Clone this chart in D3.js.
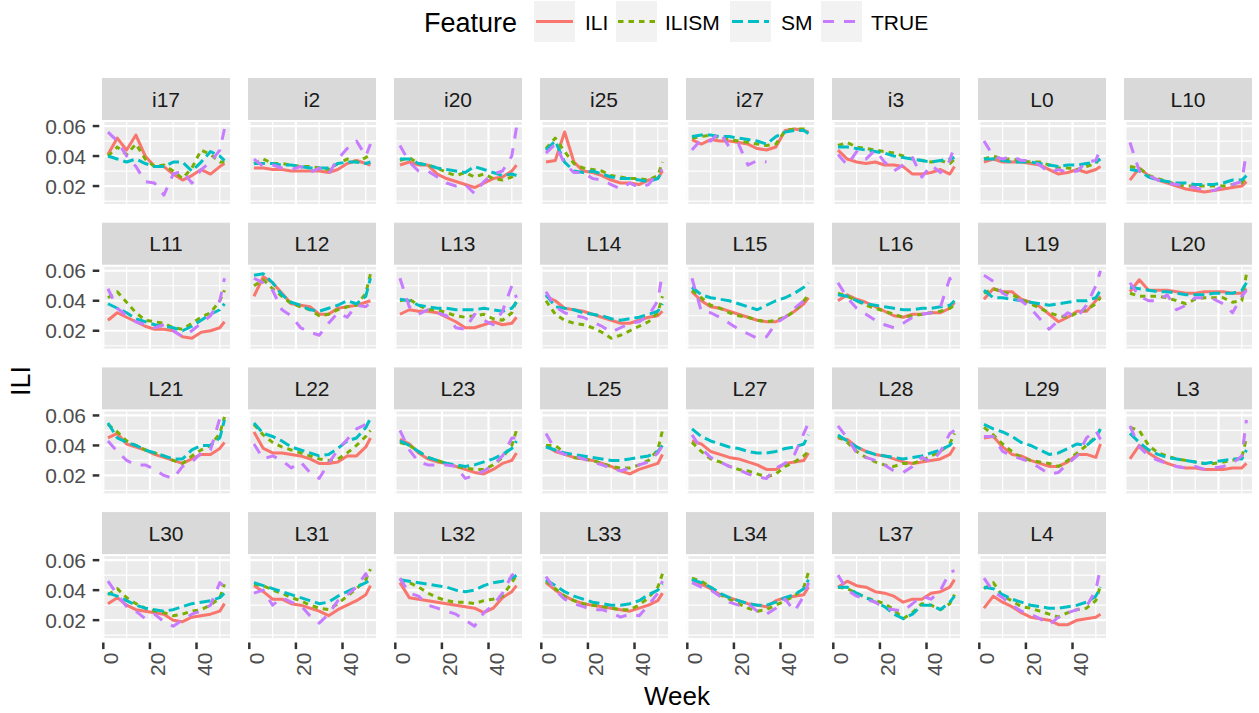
<!DOCTYPE html>
<html><head><meta charset="utf-8">
<script src="https://cdn.jsdelivr.net/npm/d3@7"></script>
<style>
html,body{margin:0;padding:0;background:#fff;}
svg{display:block;font-family:"Liberation Sans",Arial,Helvetica,sans-serif;}
</style></head>
<body><svg id="chart" width="1259" height="713"></svg>
<script>
const panels = ["i17","i2","i20","i25","i27","i3","L0","L10","L11","L12","L13","L14","L15","L16","L19","L20","L21","L22","L23","L25","L27","L28","L29","L3","L30","L31","L32","L33","L34","L37","L4"];
const weeks = [2,6,10,14,18,22,26,30,34,38,42,46,50,52];
const features = ["ILI","ILISM","SM","TRUE"];
const xTicks = [0,20,40];
const yTicks = [0.02,0.04,0.06];
const yTickLabels = ["0.02","0.04","0.06"];

const ILI = [
[0.041,0.052,0.044,0.054,0.040,0.033,0.033,0.028,0.024,0.027,0.031,0.028,0.033,0.035],
[0.032,0.032,0.031,0.031,0.030,0.030,0.030,0.030,0.029,0.031,0.035,0.037,0.035,0.034],
[0.034,0.036,0.034,0.034,0.028,0.025,0.023,0.021,0.019,0.022,0.025,0.026,0.030,0.034],
[0.036,0.037,0.056,0.036,0.030,0.029,0.027,0.024,0.022,0.022,0.021,0.024,0.025,0.030],
[0.051,0.048,0.051,0.050,0.050,0.049,0.048,0.045,0.044,0.046,0.057,0.058,0.057,0.056],
[0.044,0.038,0.036,0.035,0.036,0.034,0.034,0.033,0.028,0.028,0.029,0.031,0.028,0.033],
[0.036,0.038,0.036,0.036,0.036,0.035,0.034,0.031,0.028,0.029,0.031,0.029,0.031,0.033],
[0.024,0.032,0.027,0.024,0.022,0.020,0.018,0.017,0.016,0.017,0.018,0.019,0.020,0.023],
[0.027,0.032,0.029,0.026,0.023,0.021,0.021,0.020,0.016,0.015,0.019,0.020,0.022,0.026],
[0.043,0.056,0.052,0.045,0.038,0.037,0.036,0.031,0.031,0.035,0.036,0.037,0.039,0.040],
[0.031,0.034,0.033,0.033,0.032,0.029,0.026,0.022,0.022,0.024,0.026,0.024,0.025,0.029],
[0.043,0.040,0.035,0.034,0.033,0.031,0.029,0.027,0.025,0.025,0.027,0.029,0.030,0.033],
[0.046,0.040,0.036,0.035,0.033,0.031,0.029,0.027,0.026,0.026,0.029,0.033,0.038,0.042],
[0.040,0.044,0.041,0.039,0.036,0.033,0.030,0.029,0.031,0.031,0.032,0.032,0.035,0.039],
[0.041,0.048,0.046,0.046,0.041,0.039,0.036,0.031,0.026,0.029,0.033,0.033,0.040,0.043],
[0.046,0.054,0.047,0.047,0.047,0.046,0.045,0.045,0.046,0.046,0.046,0.045,0.045,0.048],
[0.045,0.048,0.041,0.039,0.037,0.034,0.032,0.030,0.028,0.031,0.034,0.034,0.038,0.042],
[0.049,0.038,0.035,0.035,0.034,0.033,0.031,0.028,0.028,0.029,0.033,0.033,0.039,0.045],
[0.044,0.041,0.035,0.031,0.029,0.028,0.026,0.024,0.022,0.021,0.024,0.028,0.030,0.035],
[0.040,0.036,0.034,0.032,0.031,0.030,0.028,0.026,0.023,0.021,0.024,0.026,0.028,0.034],
[0.043,0.041,0.036,0.034,0.032,0.031,0.029,0.027,0.024,0.024,0.028,0.029,0.030,0.035],
[0.045,0.044,0.039,0.036,0.034,0.033,0.031,0.029,0.028,0.029,0.030,0.031,0.034,0.039],
[0.045,0.046,0.039,0.034,0.033,0.030,0.028,0.026,0.026,0.029,0.034,0.034,0.032,0.041],
[0.031,0.040,0.035,0.031,0.028,0.026,0.025,0.025,0.024,0.024,0.024,0.025,0.025,0.028],
[0.031,0.035,0.030,0.027,0.026,0.025,0.024,0.020,0.019,0.022,0.023,0.024,0.026,0.031],
[0.043,0.039,0.034,0.034,0.031,0.030,0.028,0.026,0.023,0.027,0.030,0.033,0.037,0.043],
[0.045,0.035,0.034,0.033,0.032,0.031,0.030,0.029,0.028,0.025,0.028,0.035,0.039,0.043],
[0.045,0.040,0.036,0.033,0.031,0.030,0.029,0.028,0.027,0.026,0.028,0.030,0.033,0.038],
[0.047,0.044,0.041,0.037,0.035,0.033,0.031,0.030,0.029,0.033,0.035,0.036,0.037,0.042],
[0.042,0.046,0.043,0.042,0.039,0.038,0.036,0.032,0.034,0.034,0.038,0.039,0.042,0.047],
[0.028,0.036,0.032,0.029,0.025,0.022,0.021,0.020,0.017,0.017,0.020,0.021,0.022,0.024]
];
const ILISM = [
[0.040,0.046,0.041,0.048,0.038,0.033,0.034,0.030,0.025,0.032,0.044,0.041,0.036,0.036],
[0.035,0.038,0.035,0.035,0.034,0.033,0.033,0.032,0.031,0.035,0.038,0.036,0.039,0.041],
[0.037,0.039,0.035,0.034,0.032,0.029,0.027,0.029,0.026,0.028,0.025,0.024,0.026,0.028],
[0.045,0.052,0.043,0.035,0.032,0.031,0.030,0.027,0.026,0.025,0.025,0.024,0.027,0.036],
[0.052,0.053,0.054,0.052,0.051,0.050,0.049,0.048,0.047,0.048,0.057,0.058,0.058,0.057],
[0.047,0.049,0.046,0.045,0.044,0.043,0.042,0.040,0.038,0.037,0.036,0.037,0.035,0.038],
[0.038,0.040,0.038,0.038,0.037,0.036,0.036,0.034,0.032,0.032,0.031,0.033,0.035,0.039],
[0.033,0.032,0.027,0.025,0.023,0.021,0.020,0.020,0.020,0.020,0.020,0.021,0.022,0.027],
[0.042,0.046,0.039,0.032,0.027,0.026,0.025,0.022,0.021,0.025,0.029,0.032,0.040,0.047],
[0.050,0.054,0.048,0.043,0.038,0.036,0.034,0.030,0.031,0.034,0.036,0.037,0.045,0.058],
[0.040,0.041,0.037,0.034,0.034,0.032,0.030,0.029,0.030,0.031,0.028,0.027,0.032,0.040],
[0.040,0.031,0.027,0.025,0.024,0.022,0.019,0.015,0.017,0.020,0.023,0.026,0.032,0.043],
[0.047,0.042,0.037,0.035,0.032,0.030,0.029,0.027,0.026,0.027,0.029,0.033,0.040,0.044],
[0.045,0.043,0.040,0.037,0.035,0.033,0.031,0.029,0.030,0.031,0.032,0.033,0.035,0.037],
[0.045,0.048,0.046,0.044,0.041,0.038,0.035,0.032,0.030,0.029,0.032,0.034,0.038,0.042],
[0.045,0.043,0.043,0.043,0.042,0.040,0.038,0.041,0.042,0.042,0.042,0.039,0.040,0.058],
[0.054,0.049,0.043,0.040,0.037,0.035,0.033,0.030,0.028,0.033,0.037,0.040,0.048,0.059],
[0.054,0.047,0.042,0.039,0.037,0.035,0.033,0.031,0.030,0.031,0.035,0.040,0.046,0.050],
[0.042,0.040,0.036,0.032,0.030,0.028,0.026,0.025,0.024,0.024,0.027,0.032,0.040,0.050],
[0.040,0.040,0.035,0.032,0.031,0.030,0.028,0.026,0.025,0.025,0.027,0.030,0.037,0.050],
[0.042,0.036,0.031,0.029,0.026,0.024,0.023,0.021,0.019,0.021,0.026,0.029,0.033,0.036],
[0.046,0.042,0.036,0.032,0.029,0.027,0.026,0.028,0.028,0.030,0.033,0.036,0.041,0.048],
[0.052,0.047,0.041,0.036,0.032,0.030,0.029,0.028,0.026,0.030,0.035,0.040,0.046,0.051],
[0.052,0.050,0.040,0.035,0.033,0.031,0.030,0.029,0.028,0.028,0.029,0.030,0.032,0.045],
[0.037,0.041,0.035,0.031,0.028,0.026,0.025,0.023,0.024,0.026,0.027,0.030,0.035,0.044],
[0.044,0.043,0.040,0.038,0.035,0.033,0.030,0.028,0.027,0.031,0.036,0.041,0.047,0.054],
[0.047,0.045,0.042,0.038,0.035,0.033,0.032,0.032,0.031,0.033,0.034,0.036,0.045,0.050],
[0.046,0.041,0.036,0.033,0.031,0.030,0.029,0.028,0.027,0.027,0.030,0.035,0.042,0.051],
[0.048,0.046,0.042,0.037,0.034,0.031,0.028,0.026,0.027,0.030,0.033,0.036,0.042,0.052],
[0.042,0.041,0.038,0.035,0.033,0.031,0.027,0.021,0.025,0.031,0.030,0.027,0.031,0.037],
[0.041,0.045,0.036,0.033,0.029,0.028,0.026,0.024,0.022,0.025,0.027,0.028,0.033,0.043]
];
const SM = [
[0.040,0.038,0.036,0.038,0.035,0.033,0.033,0.036,0.036,0.030,0.036,0.043,0.040,0.037],
[0.035,0.035,0.035,0.034,0.034,0.033,0.032,0.032,0.032,0.035,0.036,0.036,0.035,0.036],
[0.038,0.038,0.035,0.034,0.032,0.031,0.030,0.029,0.033,0.031,0.029,0.027,0.028,0.027],
[0.044,0.050,0.036,0.030,0.029,0.030,0.028,0.026,0.025,0.025,0.024,0.023,0.025,0.030],
[0.053,0.054,0.054,0.053,0.053,0.052,0.051,0.050,0.048,0.053,0.056,0.057,0.057,0.055],
[0.046,0.046,0.045,0.044,0.043,0.042,0.040,0.039,0.038,0.037,0.036,0.037,0.038,0.039],
[0.038,0.038,0.037,0.036,0.036,0.036,0.035,0.034,0.033,0.034,0.034,0.035,0.036,0.038],
[0.031,0.030,0.026,0.024,0.023,0.022,0.022,0.021,0.021,0.021,0.022,0.024,0.024,0.027],
[0.038,0.035,0.032,0.028,0.026,0.024,0.023,0.022,0.020,0.023,0.027,0.031,0.034,0.038],
[0.057,0.058,0.052,0.044,0.039,0.037,0.034,0.033,0.035,0.037,0.040,0.038,0.043,0.055],
[0.041,0.040,0.037,0.036,0.035,0.035,0.034,0.034,0.034,0.035,0.034,0.033,0.035,0.039],
[0.044,0.036,0.035,0.034,0.032,0.031,0.030,0.028,0.027,0.028,0.029,0.031,0.033,0.038],
[0.049,0.044,0.042,0.041,0.040,0.038,0.036,0.034,0.037,0.040,0.042,0.045,0.049,0.052],
[0.044,0.043,0.040,0.038,0.037,0.036,0.035,0.034,0.034,0.035,0.035,0.036,0.037,0.040],
[0.047,0.042,0.042,0.041,0.040,0.039,0.038,0.037,0.038,0.039,0.040,0.040,0.042,0.047],
[0.049,0.048,0.047,0.046,0.046,0.045,0.044,0.044,0.044,0.045,0.045,0.045,0.047,0.052],
[0.055,0.045,0.042,0.040,0.037,0.035,0.033,0.031,0.031,0.037,0.040,0.040,0.045,0.057],
[0.055,0.048,0.046,0.043,0.039,0.037,0.035,0.033,0.034,0.038,0.043,0.045,0.052,0.058],
[0.043,0.040,0.036,0.032,0.030,0.028,0.027,0.026,0.027,0.029,0.031,0.034,0.038,0.043],
[0.039,0.037,0.035,0.034,0.033,0.032,0.031,0.030,0.030,0.031,0.032,0.033,0.036,0.040],
[0.051,0.046,0.043,0.041,0.039,0.038,0.036,0.035,0.035,0.036,0.038,0.039,0.041,0.047],
[0.047,0.043,0.039,0.036,0.034,0.033,0.032,0.031,0.032,0.033,0.035,0.037,0.040,0.044],
[0.054,0.051,0.049,0.046,0.042,0.040,0.037,0.034,0.035,0.038,0.041,0.040,0.045,0.051],
[0.048,0.042,0.037,0.034,0.032,0.031,0.030,0.029,0.028,0.029,0.030,0.031,0.031,0.037],
[0.038,0.036,0.033,0.030,0.028,0.027,0.026,0.027,0.029,0.031,0.032,0.033,0.035,0.038],
[0.045,0.043,0.041,0.039,0.037,0.035,0.033,0.031,0.032,0.036,0.039,0.042,0.045,0.047],
[0.047,0.046,0.045,0.044,0.043,0.042,0.040,0.039,0.040,0.043,0.045,0.046,0.048,0.050],
[0.047,0.043,0.039,0.036,0.034,0.032,0.031,0.030,0.030,0.031,0.033,0.037,0.040,0.044],
[0.047,0.045,0.042,0.038,0.035,0.033,0.031,0.030,0.030,0.032,0.035,0.037,0.041,0.047],
[0.042,0.042,0.038,0.035,0.032,0.029,0.024,0.021,0.024,0.030,0.030,0.027,0.032,0.036],
[0.042,0.041,0.037,0.034,0.032,0.030,0.029,0.028,0.028,0.029,0.030,0.032,0.036,0.042]
];
const TRUE_ = [
[0.056,0.050,0.040,0.033,0.023,0.022,0.014,0.028,0.030,0.022,0.031,0.036,0.044,0.058],
[0.038,0.033,0.034,0.032,0.031,0.033,0.029,0.032,0.028,0.038,0.045,0.050,0.040,0.048],
[0.047,0.036,0.030,0.030,0.026,0.022,0.020,0.021,0.015,0.023,0.028,0.030,0.040,0.059],
[0.042,0.048,0.035,0.029,0.029,0.025,0.024,0.021,0.018,0.022,0.019,0.021,0.029,0.031],
[0.044,0.051,0.050,0.056,0.046,0.048,0.034,0.037,0.036,null,null,null,null,null],
[0.041,0.034,0.043,0.038,0.044,0.036,0.030,0.034,0.039,0.026,0.034,0.029,0.037,0.047],
[0.050,0.040,0.038,0.040,0.037,0.037,0.034,0.029,0.031,0.029,0.030,0.036,0.037,0.045],
[0.049,0.030,0.027,0.024,0.022,0.021,0.020,0.019,0.017,0.017,0.020,0.021,0.023,0.043],
[0.048,0.035,0.030,0.026,0.024,0.022,0.024,0.020,0.016,0.020,0.025,0.030,0.040,0.055],
[0.055,0.052,0.047,0.034,0.030,0.022,0.019,0.017,0.025,0.032,0.029,0.037,0.036,0.039],
[0.055,0.036,0.031,0.034,0.032,0.030,0.022,0.021,0.031,0.027,0.024,0.033,0.050,0.042],
[0.046,0.036,0.032,0.030,0.029,0.026,0.023,0.019,0.022,0.025,0.026,0.030,0.040,0.059],
[0.055,0.033,0.032,0.029,0.025,0.021,0.018,0.015,0.016,0.025,0.029,0.035,0.040,0.045],
[0.052,0.042,0.035,0.031,0.027,0.024,0.022,0.025,0.029,0.031,0.032,0.036,0.055,0.048],
[0.057,0.053,0.045,0.042,0.040,0.035,0.028,0.021,0.027,0.032,0.029,0.037,0.050,0.060],
[0.052,0.043,0.040,0.040,0.044,0.034,0.037,0.042,0.042,0.041,0.038,0.032,0.043,0.047],
[0.043,0.036,0.030,0.027,0.027,0.024,0.020,0.018,0.026,0.029,0.035,0.037,0.058,0.058],
[0.041,0.031,0.033,0.030,0.025,0.029,0.022,0.018,0.028,0.037,0.044,0.051,0.054,0.050],
[0.050,0.037,0.029,0.027,0.027,0.027,0.026,0.018,0.020,0.023,0.027,0.033,0.045,0.045],
[0.048,0.037,0.034,0.033,0.031,0.029,0.027,0.025,0.023,0.025,0.027,0.029,0.035,0.040],
[0.047,0.038,0.032,0.029,0.026,0.024,0.021,0.019,0.018,0.025,0.028,0.034,0.048,0.055],
[0.053,0.045,0.035,0.032,0.030,0.027,0.023,0.022,0.026,0.032,0.029,0.036,0.048,0.050],
[0.046,0.046,0.036,0.033,0.031,0.029,0.025,0.021,0.022,0.028,0.033,0.045,0.050,0.044],
[0.053,0.039,0.033,0.030,0.028,0.026,0.025,0.026,0.024,0.025,0.026,0.028,0.033,0.057],
[0.046,0.037,0.029,0.026,0.021,0.024,0.019,0.016,0.020,0.024,0.026,0.030,0.045,0.042],
[0.038,0.040,0.030,0.035,0.032,0.030,0.023,0.018,0.024,0.033,0.037,0.042,0.051,0.045],
[0.048,0.038,0.036,0.030,0.028,0.026,0.024,0.020,0.016,0.025,0.030,0.038,0.050,0.052],
[0.049,0.040,0.034,0.031,0.029,0.027,0.027,0.025,0.022,0.024,0.023,0.030,0.038,0.046],
[0.045,0.042,0.040,0.036,0.032,0.030,0.031,0.026,0.024,0.028,0.034,0.026,0.036,0.045],
[0.050,0.040,0.036,0.034,0.032,0.028,0.027,0.026,0.031,0.036,0.034,0.040,0.052,0.053],
[0.048,0.039,0.035,0.030,0.026,0.024,0.021,0.017,0.022,0.025,0.027,0.029,0.040,0.055]
];

const seriesData = {ILI: ILI, ILISM: ILISM, SM: SM, TRUE: TRUE_};
const colors = {ILI:"#F8766D", ILISM:"#7CAE00", SM:"#00BFC4", TRUE:"#C77CFF"};
const LW = 3;
const dashes = {ILI:null, ILISM:"5.5,5", SM:"11,5", TRUE:"11,10"};

// layout
const NCOL = 8, PW = 128, COLP = 146, LEFT0 = 102;
const STRIP0 = 78, ROWP = 144.7, STRIP_H = 42, POFF = 44, PH = 82;

const svg = d3.select("#chart");
const x = d3.scaleLinear().domain([-0.56, 54.37]).range([0, PW]);
const y = d3.scaleLinear().domain([0.00803, 0.0627]).range([PH, 0]);

const nRows = Math.ceil(panels.length / NCOL);
const defs = svg.append("defs");
defs.append("clipPath").attr("id","pclip").append("rect").attr("width",PW).attr("height",PH);

panels.forEach((name, i) => {
  const col = i % NCOL, row = Math.floor(i / NCOL);
  const px = LEFT0 + col * COLP;
  const sy = STRIP0 + row * ROWP;
  const py = sy + POFF;
  // strip
  svg.append("rect").attr("x",px).attr("y",sy).attr("width",PW).attr("height",STRIP_H).attr("fill","#D9D9D9");
  svg.append("text").attr("x",px+PW/2).attr("y",sy+STRIP_H/2).attr("dy","0.36em")
    .attr("text-anchor","middle").attr("font-size",21).attr("fill","#1A1A1A").text(name);
  const g = svg.append("g").attr("transform",`translate(${px},${py})`);
  g.append("rect").attr("width",PW).attr("height",PH).attr("fill","#EBEBEB");
  // minor grid
  [0.01,0.03,0.05].forEach(v => g.append("line").attr("x1",0).attr("x2",PW).attr("y1",y(v)).attr("y2",y(v)).attr("stroke","#fff").attr("stroke-width",1.2));
  [10,30,50].forEach(v => g.append("line").attr("y1",0).attr("y2",PH).attr("x1",x(v)).attr("x2",x(v)).attr("stroke","#fff").attr("stroke-width",1.2));
  // major grid
  yTicks.forEach(v => g.append("line").attr("x1",0).attr("x2",PW).attr("y1",y(v)).attr("y2",y(v)).attr("stroke","#fff").attr("stroke-width",2.2));
  xTicks.forEach(v => g.append("line").attr("y1",0).attr("y2",PH).attr("x1",x(v)).attr("x2",x(v)).attr("stroke","#fff").attr("stroke-width",2.2));
  // lines
  const lg = g.append("g").attr("clip-path","url(#pclip)");
  features.forEach(f => {
    const vals = seriesData[f][i];
    const pts = weeks.map((w,k) => [w, vals[k]]);
    const line = d3.line().defined(d => d[1] !== null).x(d => x(d[0])).y(d => y(d[1]));
    lg.append("path").attr("d", line(pts)).attr("fill","none")
      .attr("stroke", colors[f]).attr("stroke-width", LW)
      .attr("stroke-dasharray", dashes[f]).attr("stroke-linecap","butt").attr("stroke-linejoin","round");
  });
  // y axis
  if (col === 0) {
    yTicks.forEach((v,k) => {
      svg.append("line").attr("x1",px-9.3).attr("x2",px-2.7).attr("y1",py+y(v)).attr("y2",py+y(v)).attr("stroke","#333").attr("stroke-width",2.5);
      svg.append("text").attr("x",px-16).attr("y",py+y(v)).attr("dy","0.36em").attr("text-anchor","end")
        .attr("font-size",21).attr("fill","#4D4D4D").text(yTickLabels[k]);
    });
  }
  // x axis (bottom panel of each column)
  const isBottom = (i + NCOL >= panels.length) && row === nRows - 1;
  if (isBottom) {
    xTicks.forEach(v => {
      const tx = px + x(v);
      svg.append("line").attr("x1",tx).attr("x2",tx).attr("y1",py+PH+4.4).attr("y2",py+PH+11).attr("stroke","#333").attr("stroke-width",2.5);
      svg.append("text").attr("transform",`translate(${tx},${py+PH+14.5}) rotate(-90)`)
        .attr("text-anchor","end").attr("dy","0.72em").attr("font-size",21).attr("fill","#4D4D4D").text(v);
    });
  }
});

// axis titles
svg.append("text").attr("x", LEFT0 + (7*COLP+PW)/2).attr("y",705).attr("text-anchor","middle")
  .attr("font-size",26).attr("fill","#000").text("Week");
svg.append("text").attr("transform","translate(30,381) rotate(-90)").attr("text-anchor","middle")
  .attr("font-size",27).attr("fill","#000").text("ILI");

// legend
const legTitleX = 424, keyX = [534,616,730,821], labX = [585,665,781,871];
svg.append("text").attr("x",legTitleX).attr("y",31.5).attr("font-size",27).attr("fill","#000").text("Feature");
features.forEach((f,k) => {
  svg.append("rect").attr("x",keyX[k]).attr("y",1).attr("width",41).attr("height",41).attr("fill","#F2F2F2");
  svg.append("line").attr("x1",keyX[k]+2).attr("x2",keyX[k]+39).attr("y1",21.5).attr("y2",21.5)
    .attr("stroke",colors[f]).attr("stroke-width",LW).attr("stroke-dasharray",dashes[f]);
  svg.append("text").attr("x",labX[k]).attr("y",29.5).attr("font-size",21).attr("fill","#000").text(f);
});
</script>
</body></html>
